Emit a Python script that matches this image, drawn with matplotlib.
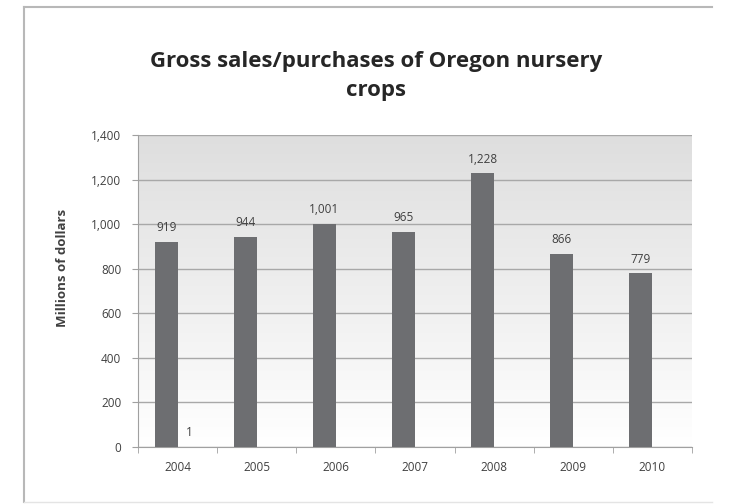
import numpy as np
import matplotlib
matplotlib.use("Agg")
import matplotlib.pyplot as plt
from matplotlib.lines import Line2D

years = ["2004", "2005", "2006", "2007", "2008", "2009", "2010"]
sales = [919, 944, 1001, 965, 1228, 866, 779]
purchases = [1, np.nan, np.nan, np.nan, np.nan, np.nan, np.nan]
y_ticks = [0, 200, 400, 600, 800, 1000, 1200, 1400]

plt.rcParams["font.family"] = ["Open Sans", "DejaVu Sans"]
TEXT = "#404040"
BAR = "#6d6e71"
W, H = 738, 504

fig = plt.figure(figsize=(W / 100, H / 100), dpi=100)
fig.patch.set_facecolor("white")
# chart frame: left and top edge plus faint bottom
fig.lines.append(Line2D([24 / W, 24 / W], [1 - 502 / H, 1 - 7 / H],
                        transform=fig.transFigure, color="#b8b8b8", lw=1.5))
fig.lines.append(Line2D([24 / W, 712 / W], [1 - 7 / H, 1 - 7 / H],
                        transform=fig.transFigure, color="#b8b8b8", lw=1.5))
fig.lines.append(Line2D([24 / W, 712 / W], [1 - 502 / H, 1 - 502 / H],
                        transform=fig.transFigure, color="#e4e4e4", lw=1))

ax = fig.add_axes([138 / W, 1 - 447 / H, (692 - 138) / W, (447 - 135) / H])

x = np.arange(len(years))
w = 0.29
ax.bar(x - w / 2, sales, width=w, color=BAR, zorder=3)
ax.bar(x + w / 2, purchases, width=w, color=BAR, zorder=3)

for xi, v in zip(x, sales):
    ax.text(xi - w / 2, v + 35, f"{v:,}", ha="center", va="bottom",
            fontsize=8.5, color=TEXT)
for xi, v in zip(x, purchases):
    if not np.isnan(v):
        ax.text(xi + w / 2, v + 35, f"{v:,.0f}", ha="center", va="bottom",
                fontsize=8.5, color=TEXT)

ax.set_xlim(-0.5, len(years) - 0.5)
ax.set_ylim(0, 1400)

# gradient background
grad = np.linspace(0, 1, 256).reshape(-1, 1)
ax.imshow(grad, extent=[-0.5, len(years) - 0.5, 0, 1400], aspect="auto",
          cmap=matplotlib.colors.LinearSegmentedColormap.from_list(
              "bg", ["#ffffff", "#dedede"]),
          origin="lower", zorder=0)

ax.set_yticks(y_ticks)
ax.set_yticklabels([f"{t:,}" for t in y_ticks], fontsize=8.5, color=TEXT)
ax.set_xticks(x)
ax.set_xticklabels(years, fontsize=8.5, color=TEXT)
ax.set_xticks(np.arange(len(years) + 1) - 0.5, minor=True)
ax.tick_params(axis="x", which="major", length=0, pad=10)
ax.tick_params(axis="x", which="minor", length=4, color="#a0a0a0")
ax.tick_params(axis="y", length=4, color="#a0a0a0", pad=8)
ax.grid(axis="y", color="#a8a8a8", linewidth=1.0, zorder=1)

for s in ["top", "right"]:
    ax.spines[s].set_visible(False)
for s in ["left", "bottom"]:
    ax.spines[s].set_color("#a0a0a0")

ax.set_ylabel("Millions of dollars", fontsize=9.5, fontweight="bold",
              color=TEXT)
ax.yaxis.set_label_coords(-0.124, 0.574)

fig.text(376 / W, 1 - 76 / H, "Gross sales/purchases of Oregon nursery\ncrops",
         ha="center", va="center", fontsize=16, fontweight="bold",
         color="#262626", linespacing=1.5)

fig.savefig("out.png", dpi=100)
